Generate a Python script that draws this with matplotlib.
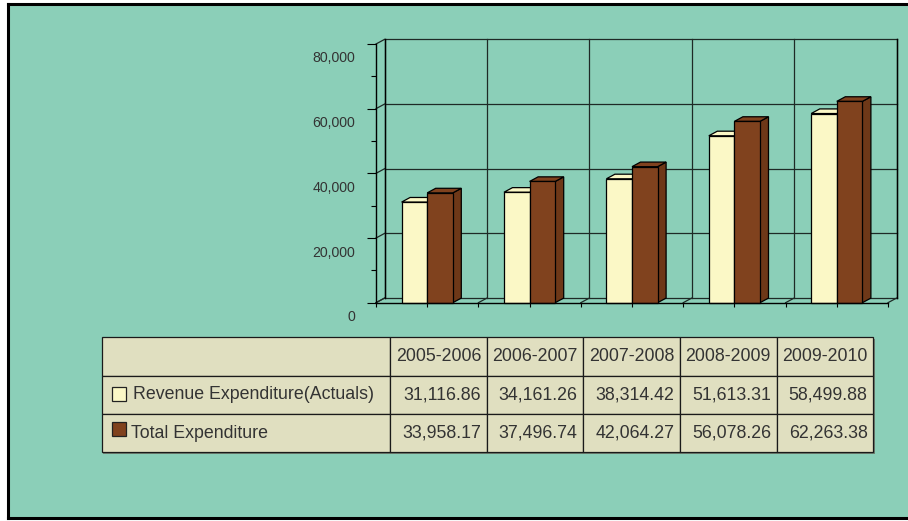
import matplotlib
matplotlib.use("Agg")
import matplotlib.pyplot as plt
import matplotlib.transforms as mtransforms
from matplotlib.patches import Rectangle, Polygon
from matplotlib.lines import Line2D
import numpy as np

plt.rcParams['font.family'] = ['Liberation Sans', 'DejaVu Sans']

years = ['2005-2006', '2006-2007', '2007-2008', '2008-2009', '2009-2010']
revenue = [31116.86, 34161.26, 38314.42, 51613.31, 58499.88]
total = [33958.17, 37496.74, 42064.27, 56078.26, 62263.38]
series_names = ['Revenue Expenditure(Actuals)', 'Total Expenditure']

bg = '#8BCFB8'
rev_col = '#FBF8C6'
tot_col = '#80421E'
tot_side = '#6E3818'
txt_col = '#333333'
grid_col = '#1E2A26'

W, H = 908, 521
fig = plt.figure(figsize=(W / 100, H / 100), dpi=100, facecolor='white')

# teal panel, black frame on left/top/bottom only (right side runs off the canvas)
fig.patches.append(Rectangle((8 / W, 3 / H), 1.5, 514 / H, transform=fig.transFigure,
                             facecolor=bg, edgecolor='none', zorder=-10))
x0f, y0f, y1f = 8 / W, 3 / H, 517 / H
for xs, ys in [([x0f, x0f], [y0f, y1f]), ([x0f, 1.0], [y1f, y1f]), ([x0f, 1.0], [y0f, y0f])]:
    fig.lines.append(Line2D(xs, ys, transform=fig.transFigure, color='black', lw=2.2,
                            solid_capstyle='projecting', zorder=-9))

# ---- chart (front plane in axes, depth via offsets) ----
ax = fig.add_axes([376 / W, (H - 302.7) / H, 512 / W, 258.7 / H])
ax.set_facecolor('none')
ax.set_xlim(-0.5, 4.5)
ax.set_ylim(0, 80000)
dx = 8.5 / 102.4
dy = 4.6 / 258.7 * 80000

x = np.arange(len(years))
bounds = np.arange(-0.5, len(years), 1.0)
majors = [0, 20000, 40000, 60000, 80000]

# back wall grid
for v in majors:
    ax.plot([-0.5 + dx, 4.5 + dx], [v + dy, v + dy], color=grid_col, lw=0.9, clip_on=False, zorder=1)
    ax.plot([-0.5, -0.5 + dx], [v, v + dy], color=grid_col, lw=0.9, clip_on=False, zorder=1)
for b in bounds:
    ax.plot([b + dx, b + dx], [dy, 80000 + dy], color=grid_col, lw=0.9, clip_on=False, zorder=1)
    ax.plot([b, b + dx], [0, dy], color=grid_col, lw=0.9, clip_on=False, zorder=1)
ax.plot([-0.5 + dx, -0.5 + dx], [dy, 80000 + dy], color='black', lw=1.0, clip_on=False, zorder=1)
ax.plot([4.5 + dx, 4.5 + dx], [dy, 80000 + dy], color='black', lw=1.0, clip_on=False, zorder=1)

bw = 0.25
def bar3d(x0, h, face, side, z):
    ax.add_patch(Polygon([(x0 + bw, 0), (x0 + bw, h), (x0 + bw + dx, h + dy), (x0 + bw + dx, dy)],
                         closed=True, facecolor=side, edgecolor='black', lw=0.9, zorder=z, clip_on=False))
    ax.add_patch(Polygon([(x0, h), (x0 + bw, h), (x0 + bw + dx, h + dy), (x0 + dx, h + dy)],
                         closed=True, facecolor=face, edgecolor='black', lw=0.9, zorder=z, clip_on=False))
    ax.add_patch(Rectangle((x0, 0), bw, h, facecolor=face, edgecolor='black', lw=0.9,
                           zorder=z + 0.5, clip_on=False))

for i in range(len(years)):
    bar3d(x[i] - bw, revenue[i], rev_col, rev_col, 3)
    bar3d(x[i], total[i], tot_col, tot_side, 4)

for s in ['top', 'right']:
    ax.spines[s].set_visible(False)
for s in ['left', 'bottom']:
    ax.spines[s].set_color('black')
    ax.spines[s].set_linewidth(1.0)
    ax.spines[s].set_zorder(6)

ax.set_yticks(majors)
ax.set_yticks(np.arange(0, 80001, 10000), minor=True)
ax.set_yticklabels([f'{v:,}' for v in majors])
ax.tick_params(axis='y', which='major', length=6.5, width=0.8, pad=8.6,
               labelsize=10.2, labelcolor=txt_col)
ax.tick_params(axis='y', which='minor', length=3.6, width=0.8)
offset = mtransforms.ScaledTranslation(0, -13 / 100, fig.dpi_scale_trans)
for lab in ax.get_yticklabels():
    lab.set_transform(lab.get_transform() + offset)
ax.set_xticks(np.arange(-0.5, 4.51, 0.5))
ax.set_xticklabels([])
ax.tick_params(axis='x', length=3, width=0.8)

# ---- data table ----
tax = fig.add_axes([101.7 / W, (H - 452.3) / H, 771.6 / W, 115 / H])
tax.axis('off')
# thin grey shadow on right/bottom
tax.add_patch(Rectangle((1.5 / 771.6, -1.5 / 115), 1, 1, transform=tax.transAxes,
                        facecolor='#6F7F70', edgecolor='none', zorder=0, clip_on=False))
cells = [[''] + years]
cells.append([series_names[0]] + [f'{v:,.2f}' for v in revenue])
cells.append([series_names[1]] + [f'{v:,.2f}' for v in total])
lw_frac = 288.3 / 771.6
col_w = [lw_frac] + [(1 - lw_frac) / 5] * 5
tbl = tax.table(cellText=cells, colWidths=col_w, bbox=[0, 0, 1, 1], cellLoc='right')
tbl.set_zorder(2)
tbl.auto_set_font_size(False)
tbl.set_fontsize(12.8)
for (r, c), cell in tbl.get_celld().items():
    cell.set_facecolor('#E0DFC0')
    cell.set_edgecolor('#1a1a1a')
    cell.set_linewidth(0.9)
    t = cell.get_text()
    t.set_color(txt_col)
    if c == 0:
        cell._loc = 'left'
        cell.PAD = 0.108 if r == 1 else 0.1
        t.set_ha('left')
    elif r == 0:
        cell._loc = 'center'
        t.set_ha('center')
    else:
        cell.PAD = 0.06
        t.set_ha('right')
        t.set_va('center')

# legend keys inside the table
sq_w = 14 / 771.6
sq_h = 14 / 115
tax.add_patch(Rectangle((10 / 771.6, (452.3 - 401) / 115), sq_w, sq_h, transform=tax.transAxes,
                        facecolor=rev_col, edgecolor='#222222', lw=0.9, zorder=5, clip_on=False))
tax.add_patch(Rectangle((10 / 771.6, (452.3 - 436) / 115), sq_w, sq_h, transform=tax.transAxes,
                        facecolor=tot_col, edgecolor='#222222', lw=0.9, zorder=5, clip_on=False))

fig.savefig('out.png', dpi=100, facecolor='white')
